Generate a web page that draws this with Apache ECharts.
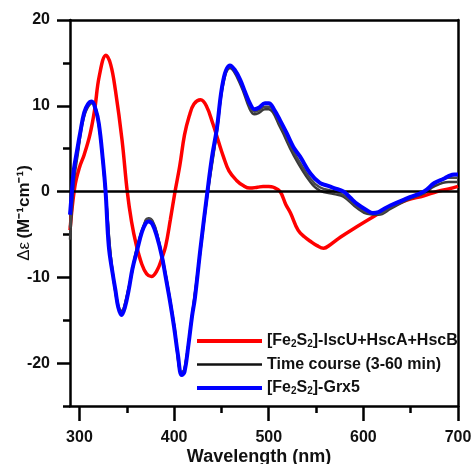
<!DOCTYPE html>
<html>
<head>
<meta charset="utf-8">
<script src="https://cdn.jsdelivr.net/npm/echarts@6/dist/echarts.min.js"></script>
<style>
  html, body { margin: 0; padding: 0; background: #fff; }
  #main { width: 474px; height: 464px; }
</style>
</head>
<body>
<div id="main"></div>
<script>
// legend names
var nameRed = '[Fe2S2]-IscU+HscA+HscB'
var nameTime = 'Time course (3-60 min)'
var nameBlue = '[Fe2S2]-Grx5'

// axis ticks
var xMajor = [300, 400, 500, 600, 700]
var xMinor = [350, 450, 550, 650]
var yMajor = [-20, -10, 0, 10, 20]
var yMinor = [-25, -15, -5, 5, 15]

// [wavelength nm, delta eps]
var redData = [
  [290, -4.5], [295, 0.5], [300, 2.8], [305, 4.3], [311, 6.6], [316, 9.5], [321, 13.5],
  [328, 15.9], [333, 14.8], [338, 11.8], [345, 6.0], [350.5, 0], [355, -3.5], [360, -6.2],
  [366, -8.5], [371, -9.6], [376, -9.9], [382, -9.2], [387, -7.8], [391, -6.4], [396, -3.3],
  [401, 0], [406, 3.0], [411, 6.6], [416, 8.8], [421, 10.2], [428, 10.7], [434, 10.0],
  [441, 7.9], [447, 5.8], [452, 4.1], [458, 2.4], [466, 1.3], [473, 0.7], [480, 0.4],
  [488, 0.5], [494, 0.6], [500, 0.6], [505, 0.5], [512, 0], [518, -1.5], [523, -2.5],
  [531, -4.5], [538, -5.3], [544, -5.8], [551, -6.3], [558, -6.6], [565, -6.2], [576, -5.3],
  [593, -4.1], [611, -2.9], [629, -1.8], [646, -1.0], [664, -0.5], [678, 0], [690, 0.3], [700, 0.6]
]

var timeDataA = [
  [290, -4.2], [292, -1.2], [294, 1.8], [298, 4.6], [305, 9.0], [313, 10.4], [320.5, 7.8],
  [327.6, 0], [335, -9.4], [344.5, -14.1], [352, -11.3], [361, -6.5], [370, -3.4], [373, -3.2],
  [377, -3.5], [382, -5.0], [391, -9.7], [400, -15.6], [408, -21.2], [411, -20.8], [419, -14.4],
  [428, -6.6], [435, -0.4], [445, 7.0], [452, 12.8], [459, 14.6], [470, 12.8], [480, 10.0],
  [485, 9.3], [490, 9.5], [496, 9.9], [500, 9.9], [512, 7.9], [526, 4.7], [544, 1.5],
  [554, 0.5], [569, 0], [579, -0.4], [593, -1.7], [604, -2.4], [616, -2.6], [629, -1.8],
  [646, -0.9], [664, -0.1], [675, 0.9], [690, 1.6], [700, 1.6]
]

var timeDataB = [
  [290, -5.6], [292, -2.2], [294, 1.0], [298, 4.2], [305, 8.8], [313, 10.3], [320.5, 7.7],
  [327.6, -0.2], [335, -9.3], [344.5, -13.9], [352, -11.2], [361, -6.4], [370, -3.3], [373, -3.1],
  [377, -3.4], [382, -4.9], [391, -9.6], [400, -15.5], [408, -21.1], [411, -20.7], [419, -14.5],
  [428, -6.8], [435, -0.6], [445, 6.8], [452, 12.6], [459, 14.4], [470, 12.5], [480, 9.6],
  [485, 9.0], [490, 9.2], [496, 9.6], [500, 9.6], [512, 7.5], [526, 4.3], [544, 1.1],
  [554, 0.1], [569, -0.3], [579, -0.6], [593, -1.9], [604, -2.6], [616, -2.7], [629, -2.0],
  [646, -1.0], [664, -0.2], [675, 0.6], [690, 1.1], [700, 1.1]
]

var blueData = [
  [290, -2.7], [292, 0], [294, 2.5], [297.5, 4.8], [301, 7], [305, 9.2], [309, 10.2], [313, 10.5],
  [317, 9.6], [320.5, 7.9], [324.7, 3.7], [327.6, 0], [331, -6.4], [335, -9.5], [338, -11.5],
  [341, -13.5], [344.5, -14.4], [348, -13.5], [352, -11.5], [356, -9], [361, -6.8], [366, -4.7],
  [370, -3.7], [373, -3.5], [377, -3.8], [382, -5.3], [387, -7.5], [391, -9.9], [396, -13],
  [400, -15.8], [404, -19], [408, -21.4], [411, -21], [415, -18], [419, -14.5], [422, -12.4],
  [428, -6.5], [435, -0.2], [440, 4], [445, 7.2], [452, 13], [459, 14.7], [464, 14.2], [470, 13],
  [475, 11.6], [480, 10.3], [485, 9.6], [490, 9.8], [496, 10.3], [500, 10.3], [506, 9.5],
  [512, 8.3], [519, 6.8], [526, 5.2], [533, 4.1], [544, 2.1], [554, 1.0], [562, 0.7], [569, 0.4],
  [579, 0], [586, -0.7], [593, -1.4], [604, -2.2], [610, -2.5], [616, -2.4], [622, -2.0],
  [629, -1.6], [646, -0.8], [664, 0], [675, 1.0], [685, 1.5], [690, 1.8], [696, 2.0], [700, 2.0]
]

var chart = echarts.init(document.getElementById('main'), null, { renderer: 'canvas' })

var axisFont = 'Liberation Sans, Arial, sans-serif'
var black = '#000'

var option = {
  animation: false,
  backgroundColor: '#fff',
  grid: { left: 70, top: 20, right: 16, bottom: 58, containLabel: false, outerBoundsMode: 'none' },
  legend: {
    orient: 'vertical',
    left: 190,
    top: 328,
    itemWidth: 65,
    itemHeight: 14,
    itemGap: 7.5,
    itemStyle: { opacity: 0 },
    data: [
      { name: nameRed, lineStyle: { color: '#ff0000', width: 4 } },
      { name: nameTime, lineStyle: { color: '#111', width: 2.5 } },
      { name: nameBlue, lineStyle: { color: '#0000ff', width: 4 } }
    ],
    formatter: function (name) {
      return name.replace(/Fe2S2/, 'Fe{sub|2}S{sub|2}')
    },
    textStyle: {
      fontFamily: axisFont,
      fontWeight: 'bold',
      fontSize: 16,
      color: '#111',
      rich: {
        sub: { fontSize: 10, fontWeight: 'bold', fontFamily: axisFont, verticalAlign: 'bottom', padding: [6, 0, 0, 0] }
      }
    }
  },
  xAxis: [
    {
      type: 'value', min: 290, max: 700, position: 'bottom',
      name: 'Wavelength (nm)', nameLocation: 'middle', nameGap: 42, nameMoveOverlap: false,
      nameTextStyle: { fontFamily: axisFont, fontWeight: 'bold', fontSize: 18, color: '#111', padding: [0, 10, 0, 0] },
      axisLine: { onZero: false, lineStyle: { color: black, width: 2.5 } },
      axisTick: { inside: false, length: 15, lineStyle: { color: black, width: 2.5 }, customValues: xMajor },
      axisLabel: { customValues: xMajor, margin: 24, fontFamily: axisFont, fontWeight: 'bold', fontSize: 16, color: '#111' },
      splitLine: { show: false }
    },
    {
      type: 'value', min: 290, max: 700, position: 'bottom',
      axisLine: { show: false, onZero: false },
      axisTick: { inside: false, length: 7, lineStyle: { color: black, width: 2.5 }, customValues: xMinor },
      axisLabel: { show: false },
      splitLine: { show: false }
    },
    {
      type: 'value', min: 290, max: 700, position: 'top',
      axisLine: { onZero: false, lineStyle: { color: black, width: 2.5 } },
      axisTick: { show: false },
      axisLabel: { show: false },
      splitLine: { show: false }
    }
  ],
  yAxis: [
    {
      type: 'value', min: -25, max: 20, position: 'left',
      name: '{d|Δε} {u|(M⁻¹cm⁻¹)}', nameLocation: 'middle', nameGap: 37, nameRotate: 90,
      nameMoveOverlap: false,
      nameTextStyle: {
        color: '#111',
        rich: {
          d: { fontFamily: axisFont, fontSize: 17, color: '#111' },
          u: { fontFamily: axisFont, fontSize: 17, fontWeight: 'bold', color: '#111' }
        }
      },
      axisLine: { onZero: false, lineStyle: { color: black, width: 2.5 } },
      axisTick: { inside: false, length: 13, lineStyle: { color: black, width: 2.5 }, customValues: yMajor },
      axisLabel: { customValues: yMajor, margin: 20, fontFamily: axisFont, fontWeight: 'bold', fontSize: 16, color: '#111' },
      splitLine: { show: false }
    },
    {
      type: 'value', min: -25, max: 20, position: 'left',
      axisLine: { show: false, onZero: false },
      axisTick: { inside: false, length: 7, lineStyle: { color: black, width: 2.5 }, customValues: yMinor },
      axisLabel: { show: false },
      splitLine: { show: false }
    },
    {
      type: 'value', min: -25, max: 20, position: 'right',
      axisLine: { onZero: false, lineStyle: { color: black, width: 2.5 } },
      axisTick: { show: false },
      axisLabel: { show: false },
      splitLine: { show: false }
    }
  ],
  series: [
    {
      name: nameRed, type: 'line', data: redData, smooth: 0.4,
      showSymbol: false, symbol: 'none',
      lineStyle: { color: '#ff0000', width: 3.5 }, itemStyle: { color: '#ff0000' },
      markLine: {
        silent: true, symbol: 'none', label: { show: false },
        lineStyle: { color: black, width: 2.5, type: 'solid' },
        data: [{ yAxis: 0 }]
      },
      z: 3
    },
    {
      name: nameTime, type: 'line', data: timeDataB, smooth: 0.4,
      showSymbol: false, symbol: 'none',
      lineStyle: { color: '#3a3a3a', width: 2.5 }, itemStyle: { color: '#111' },
      z: 4
    },
    {
      name: nameTime, type: 'line', data: timeDataA, smooth: 0.4,
      showSymbol: false, symbol: 'none',
      lineStyle: { color: '#4a4a4a', width: 2.5 }, itemStyle: { color: '#111' },
      z: 4
    },
    {
      name: nameBlue, type: 'line', data: blueData, smooth: 0.4,
      showSymbol: false, symbol: 'none',
      lineStyle: { color: '#0000ff', width: 4 }, itemStyle: { color: '#0000ff' },
      z: 5
    }
  ]
}

chart.setOption(option)
</script>
</body>
</html>
